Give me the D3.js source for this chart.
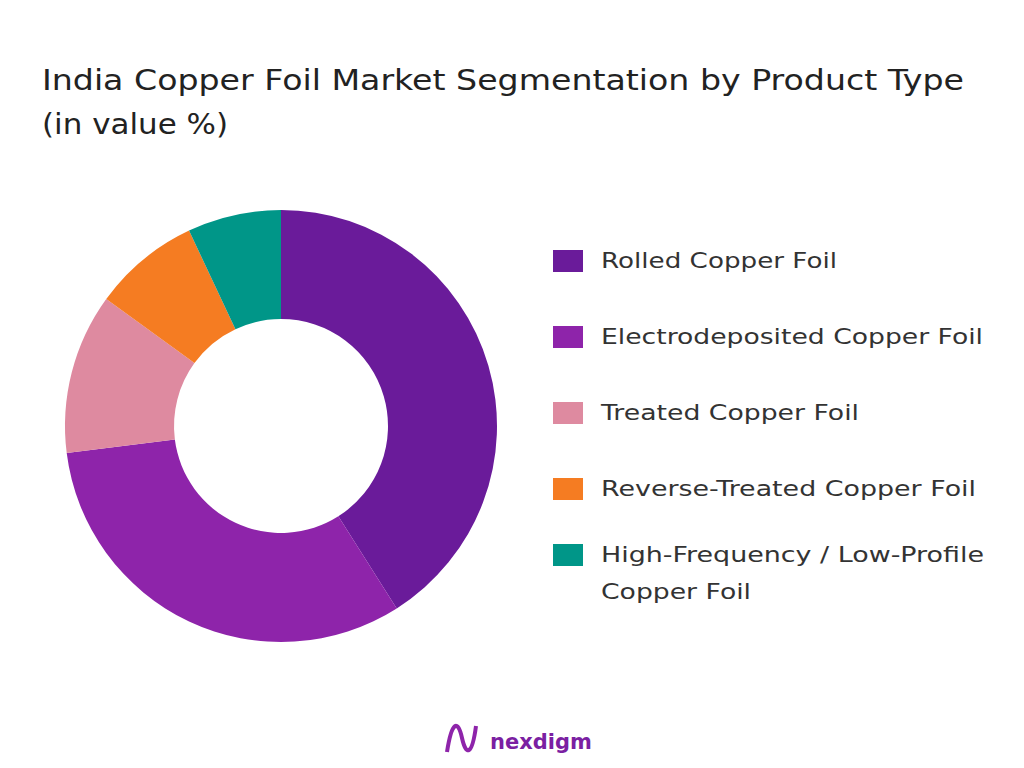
<!DOCTYPE html>
<html><head><meta charset="utf-8">
<script src="https://cdn.jsdelivr.net/npm/d3@7"></script>
<style>body{margin:0;background:#fff}</style></head>
<body><svg id="c" width="1024" height="768"></svg>
<script>
const categories=["Rolled Copper Foil","Electrodeposited Copper Foil","Treated Copper Foil","Reverse-Treated Copper Foil","High-Frequency / Low-Profile Copper Foil"];
const values=[41,32,12,8,7];
const colors=["#6a1b9a","#8e24aa","#de8aa0","#f57c22","#009688"];
const legendLines=[["Rolled Copper Foil"],["Electrodeposited Copper Foil"],["Treated Copper Foil"],["Reverse-Treated Copper Foil"],["High-Frequency / Low-Profile","Copper Foil"]];
const legendWidths=[[236],[382],[258],[375],[383,150]];
const svg=d3.select("#c");
const font="'DejaVu Sans', sans-serif";
svg.append("text").attr("x",42).attr("y",90).attr("font-family",font).attr("font-size",28).attr("fill","#222").attr("textLength",922).attr("lengthAdjust","spacingAndGlyphs").text("India Copper Foil Market Segmentation by Product Type");
svg.append("text").attr("x",42).attr("y",134).attr("font-family",font).attr("font-size",28).attr("fill","#222").attr("textLength",186).attr("lengthAdjust","spacingAndGlyphs").text("(in value %)");
const pie=d3.pie().sort(null).value(d=>d);
const arc=d3.arc().innerRadius(107).outerRadius(216);
const g=svg.append("g").attr("transform","translate(281,426)");
g.selectAll("path").data(pie(values)).join("path").attr("d",arc).attr("fill",(d,i)=>colors[i]);
const ly=[260,336,412,488,554];
categories.forEach((c,i)=>{
  svg.append("rect").attr("x",553).attr("y",ly[i]-10).attr("width",30).attr("height",22).attr("fill",colors[i]);
  legendLines[i].forEach((t,j)=>svg.append("text").attr("x",601).attr("y",ly[i]+8+j*37).attr("font-family",font).attr("font-size",22).attr("fill","#333").attr("textLength",legendWidths[i][j]).attr("lengthAdjust","spacingAndGlyphs").text(t));
});
const lg=svg.append("g");
lg.append("path").attr("d","M447,752 C452,720 458,720 462,738 C466,756 472,756 476,726").attr("fill","none").attr("stroke","#8e24aa").attr("stroke-width",4);
lg.append("text").attr("x",490).attr("y",749).attr("font-family",font).attr("font-weight","bold").attr("font-size",21).attr("fill","#7b1fa2").text("nexdigm");
</script></body></html>
